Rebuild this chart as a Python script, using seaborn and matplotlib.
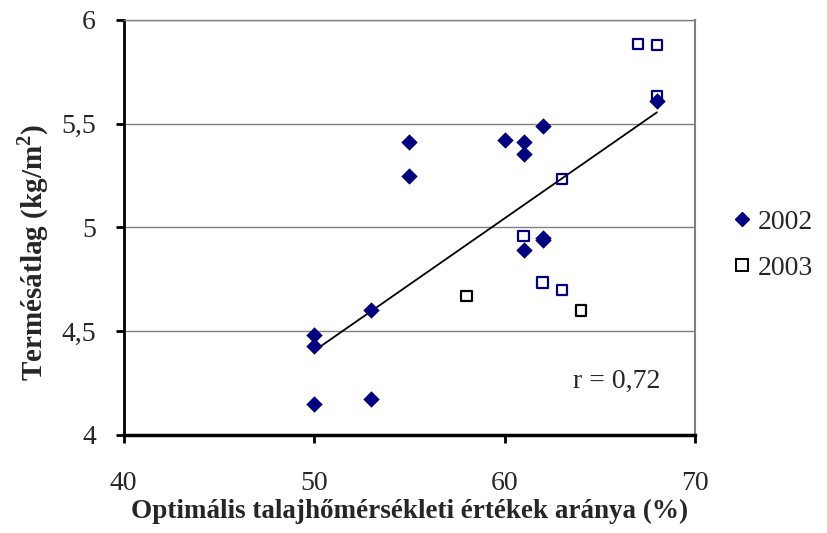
import matplotlib
matplotlib.use("Agg")
import matplotlib.pyplot as plt
from matplotlib.lines import Line2D
import numpy as np
import pandas as pd
import seaborn as sns

# ---- data ----
x_2002 = [50, 50, 50, 53, 53, 55, 55, 60, 61, 61, 61, 62, 62, 62, 68]
y_2002 = [4.48, 4.43, 4.15, 4.60, 4.175, 5.41, 5.25, 5.42, 5.41, 5.355, 4.89, 5.49, 4.95, 4.94, 5.61]
x_2003 = [58, 61, 62, 63, 63, 64, 67, 68, 68]
y_2003 = [4.67, 4.96, 4.735, 4.70, 5.235, 4.60, 5.885, 5.88, 5.635]
edge_2003 = ["black", "#000080", "#000080", "#000080", "#000080", "black", "#000080", "#000080", "#000080"]
years = ["2002", "2003"]
x_ticks = [40, 50, 60, 70]
y_ticks = [4, 4.5, 5, 5.5, 6]
y_tick_labels = ["4", "4,5", "5", "5,5", "6"]
r_text = "r = 0,72"

df = pd.DataFrame({
    "x": x_2002 + x_2003,
    "y": y_2002 + y_2003,
    "year": [years[0]] * len(x_2002) + [years[1]] * len(x_2003),
})

sns.set_style("white")
plt.rcParams["font.family"] = ["Liberation Serif", "DejaVu Serif"]
plt.rcParams["mathtext.fontset"] = "custom"
plt.rcParams["mathtext.rm"] = "Liberation Serif"
plt.rcParams["mathtext.bf"] = "Liberation Serif:bold"

fig = plt.figure(figsize=(8.27, 5.33), dpi=100)
ax = fig.add_axes([0.1495, 0.184, 0.6909, 0.7785])

# grid lines
for yv in [4.5, 5, 5.5, 6]:
    ax.axhline(yv, color="#808080", lw=1.0, zorder=0)

navy = "#000080"
d02 = df[df.year == "2002"]
d03 = df[df.year == "2003"]

sns.regplot(data=df, x="x", y="y", scatter=False, ci=None, truncate=True,
            color="black", line_kws={"lw": 1.3, "zorder": 2}, ax=ax)

sns.scatterplot(data=d02, x="x", y="y", marker="D", s=70, color=navy,
                edgecolor=navy, linewidth=0, ax=ax, zorder=3, legend=False)
ax.scatter(d03["x"], d03["y"], marker="s", s=55, facecolors="none",
           edgecolors=edge_2003, linewidths=1.6, zorder=4)

ax.set_xlim(40, 70)
ax.set_ylim(4, 6)
ax.set_xticks(x_ticks)
ax.set_yticks(y_ticks)
ax.set_yticklabels(y_tick_labels)
ax.tick_params(axis="both", labelsize=20, direction="out", length=6, width=2,
               color="black", bottom=True, left=True)
ax.tick_params(axis="x", pad=20)
ax.tick_params(axis="y", pad=14)

for s in ["left", "bottom"]:
    ax.spines[s].set_color("black")
ax.spines["left"].set_linewidth(2)
ax.spines["bottom"].set_linewidth(2.5)
ax.spines["right"].set_color("#808080")
ax.spines["right"].set_linewidth(1.5)
ax.spines["top"].set_color("#808080")
ax.spines["top"].set_linewidth(1.0)

ax.set_xlabel("Optimális talajhőmérsékleti értékek aránya (%)", fontsize=19.5,
              fontweight="bold", labelpad=2)
ax.set_ylabel(r"Termésátlag (kg/m$^{\mathbf{2}}$)", fontsize=21,
              fontweight="bold")
ax.yaxis.set_label_coords(-0.127, 0.44)

ax.text(65.9, 4.26, r_text, fontsize=20, ha="center", va="center")

handles = [
    Line2D([], [], marker="D", color=navy, linestyle="none", markersize=7),
    Line2D([], [], marker="s", markerfacecolor="none", markeredgecolor="black",
           markeredgewidth=1.4, linestyle="none", markersize=8),
]
fig.legend(handles, years, loc="center left", bbox_to_anchor=(0.852, 0.54),
           frameon=False, fontsize=20, handletextpad=0.1, labelspacing=0.75,
           handlelength=0.9)

fig.savefig("out.png", dpi=100)
